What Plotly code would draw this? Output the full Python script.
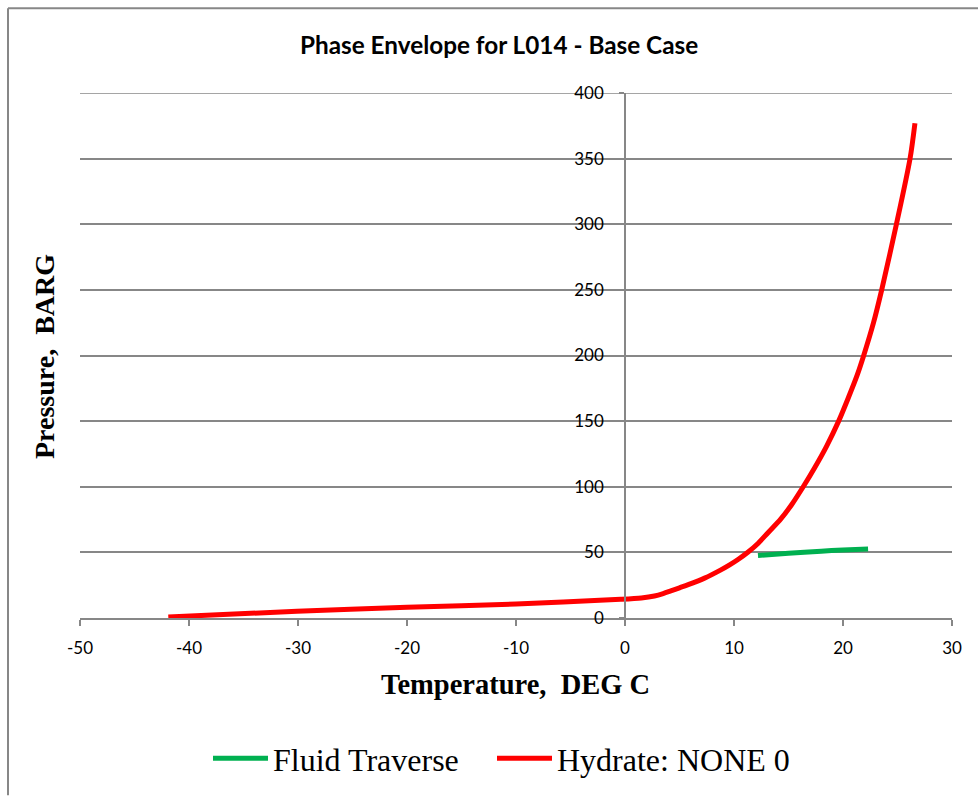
import plotly.graph_objects as go

# Data
traverse_temp = [12.2, 15.0, 18.0, 20.0, 22.3]
traverse_pres = [47.6, 49.3, 50.9, 51.8, 52.6]

hydrate_temp = [-41.9, -30.1, -20.0, -10.0, -0.4, 1.5, 2.7, 3.5, 4.2, 5.0, 5.8, 7.3, 8.8, 9.6,
                10.4, 11.3, 12.2, 13.1, 14.3, 15.3, 16.35, 17.4, 18.5, 19.6, 20.5, 21.3, 21.9,
                22.8, 23.55, 24.9, 26.15, 26.6]
hydrate_pres = [0.8, 5.1, 8.1, 10.6, 14.2, 15.3, 16.8, 18.6, 20.6, 23.0, 25.4, 30.4, 36.7, 40.5,
                44.8, 50.3, 56.8, 64.8, 75.5, 86.5, 100.0, 114.5, 131.0, 150.0, 168.0, 185.0, 200.0,
                225.0, 250.0, 300.0, 350.0, 377.0]

x_ticks = [-50, -40, -30, -20, -10, 0, 10, 20, 30]
x_tick_labels = ["-50", "-40", "-30", "-20", "-10", "0", "10", "20", "30"]
y_ticks = [0, 50, 100, 150, 200, 250, 300, 350, 400]

W, H = 978, 798
L, R, T, B = 80, 26, 93, 178
pw, ph = W - L - R, H - T - B

def px_x(p):
    return (p - L) / pw

def px_y(p):
    return (H - B - p) / ph

fig = go.Figure()
fig.add_trace(go.Scatter(x=traverse_temp, y=traverse_pres, mode="lines", name="Fluid Traverse",
                         legend="legend",
                         line=dict(color="#00B050", width=5, shape="spline", smoothing=0.8)))
fig.add_trace(go.Scatter(x=hydrate_temp, y=hydrate_pres, mode="lines", name="Hydrate: NONE 0",
                         legend="legend2",
                         line=dict(color="#FF0000", width=5, shape="spline", smoothing=0.8)))

grid = "#878787"
leg_font = dict(family="Liberation Serif", size=32, color="black")
fig.update_layout(
    width=W, height=H,
    margin=dict(l=L, r=R, t=T, b=B),
    paper_bgcolor="white", plot_bgcolor="white",
    showlegend=True,
    legend=dict(orientation="h", x=px_x(208), xanchor="left", y=px_y(761), yanchor="middle",
                font=leg_font, itemwidth=55, bgcolor="rgba(0,0,0,0)"),
    legend2=dict(orientation="h", x=px_x(492), xanchor="left", y=px_y(761), yanchor="middle",
                 font=leg_font, itemwidth=55, bgcolor="rgba(0,0,0,0)"),
    xaxis=dict(range=[-50, 30], tickvals=x_ticks, ticktext=x_tick_labels,
               showgrid=False, zeroline=False,
               showline=True, linecolor=grid, linewidth=1.5,
               ticks="outside", ticklen=6, tickcolor=grid, tickwidth=1.5,
               ticklabelstandoff=8,
               tickfont=dict(family="Lato", size=17, color="black")),
    yaxis=dict(range=[0, 400], tickvals=y_ticks, showgrid=True, gridcolor=grid, gridwidth=1.5,
               zeroline=False, showline=True, linecolor=grid, linewidth=1.5,
               anchor="free", position=0.625,
               ticks="outside", ticklen=5, tickcolor=grid, tickwidth=1.5,
               ticklabelstandoff=12,
               tickfont=dict(family="Lato", size=17, color="black")),
    annotations=[
        dict(text="<b>Phase Envelope for L014 - Base Case</b>", xref="paper", yref="paper",
             x=px_x(499), y=px_y(44), xanchor="center", yanchor="middle", showarrow=False,
             font=dict(family="Lato", size=24.3, color="black")),
        dict(text="<b>Temperature,  DEG C</b>", xref="paper", yref="paper",
             x=px_x(515), y=px_y(687), xanchor="center", yanchor="middle", showarrow=False,
             font=dict(family="Liberation Serif", size=28.5, color="black")),
        dict(text="<b>Pressure,  BARG</b>", xref="paper", yref="paper", textangle=-90,
             x=px_x(45), y=px_y(358), xanchor="center", yanchor="middle", showarrow=False,
             font=dict(family="Liberation Serif", size=28, color="black")),
    ],
    shapes=[
        dict(type="line", xref="paper", yref="y", x0=0, x1=1, y0=y_ticks[-1], y1=y_ticks[-1],
             line=dict(color=grid, width=1.5), layer="below"),
        dict(type="line", xref="paper", yref="paper",
             x0=px_x(8), x1=px_x(978), y0=px_y(8), y1=px_y(8),
             line=dict(color=grid, width=2)),
        dict(type="line", xref="paper", yref="paper",
             x0=px_x(8), x1=px_x(8), y0=px_y(8), y1=px_y(798),
             line=dict(color=grid, width=2)),
    ],
)

fig.write_html("out.html")
